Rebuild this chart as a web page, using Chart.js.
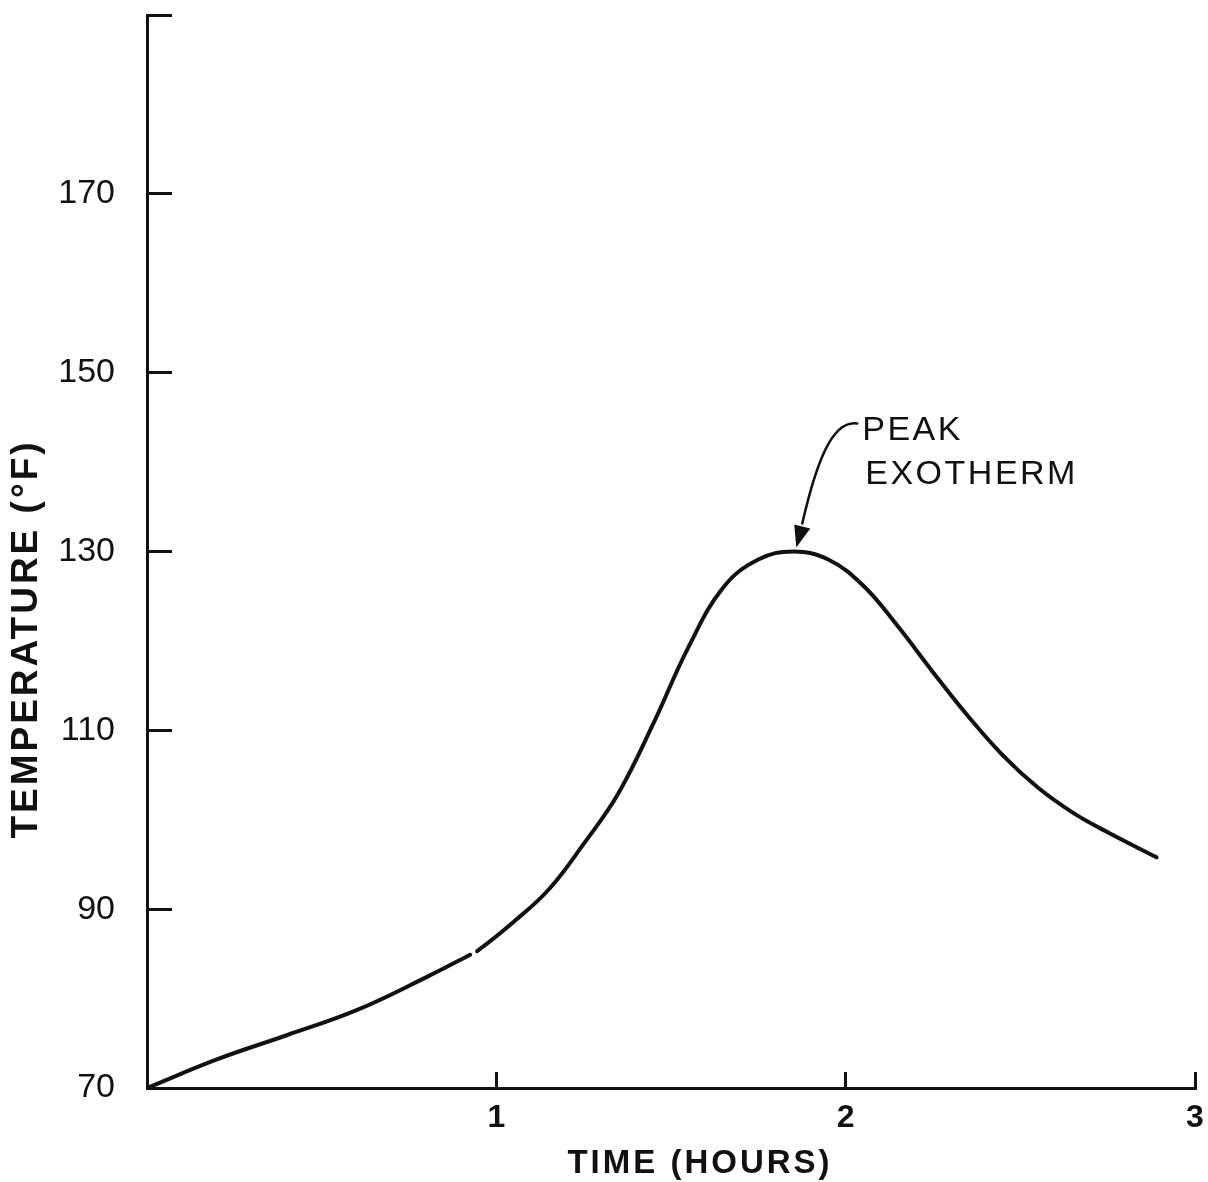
<!DOCTYPE html>
<html>
<head>
<meta charset="utf-8">
<script src="https://cdn.jsdelivr.net/npm/chart.js@4.4.1/dist/chart.umd.min.js"></script>
<style>
  html, body { margin: 0; padding: 0; background: #fff; }
  #wrap { width: 1208px; height: 1182px; }
</style>
</head>
<body>
<div id="wrap"><canvas id="myChart" width="1208" height="1182"></canvas></div>
<script>
// values
const timeHours = [0, 0.2, 0.4, 0.6, 0.8, 0.925, 0.945, 1.05, 1.15, 1.25, 1.35, 1.45, 1.55, 1.65, 1.75,
    1.85, 1.95, 2.05, 2.15, 2.25, 2.35, 2.45, 2.55, 2.65, 2.75, 2.89];
const temperatureF = [70, 73.2, 75.9, 78.7, 82.4, 84.9, 85.3, 88.6, 92.2, 97.3, 103.0, 110.8, 119.3, 126.0, 129.1,
    130.0, 129.1, 126.2, 121.6, 116.5, 111.6, 107.2, 103.6, 100.8, 98.6, 95.8];
const gapIndex = 5; // small break in the inked line

const xTicks = [1, 2, 3];
const yTicks = [70, 90, 110, 130, 150, 170];
const xMin = 0, xMax = 3;
const yMin = 70, yMax = 190;

const xTitle = 'TIME (HOURS)';
const yTitle = 'TEMPERATURE (°F)';
const peakLabel = ['PEAK', 'EXOTHERM'];
const peakPoint = { x: 1.85, y: 130 };

const ink = '#111';

const titlesPlugin = {
    id: 'titles',
    afterDraw(chart) {
        const ctx = chart.ctx;
        const area = chart.chartArea;
        ctx.save();
        ctx.fillStyle = ink;
        ctx.textAlign = 'center';
        ctx.textBaseline = 'middle';
        ctx.letterSpacing = '3px';

        // x title
        ctx.font = 'bold 33px "Liberation Sans", Arial, sans-serif';
        ctx.fillText(xTitle, area.left + 553, area.bottom + 76);

        // y title
        ctx.save();
        ctx.translate(area.left - 120, area.bottom - 449);
        ctx.rotate(-Math.PI / 2);
        ctx.font = 'bold 37px "Liberation Sans", Arial, sans-serif';
        ctx.fillText(yTitle, 0, 0);
        ctx.restore();
        ctx.restore();
    }
};

const peakPlugin = {
    id: 'peakNote',
    afterDatasetsDraw(chart) {
        const ctx = chart.ctx;
        const tx = chart.scales.x.getPixelForValue(peakPoint.x) + 3;
        const ty = chart.scales.y.getPixelForValue(peakPoint.y) - 4;
        ctx.save();
        ctx.strokeStyle = ink;
        ctx.fillStyle = ink;
        ctx.lineWidth = 2.5;
        ctx.lineCap = 'round';
        ctx.beginPath();
        ctx.moveTo(tx + 61, ty - 124);
        ctx.bezierCurveTo(tx + 36, ty - 128, tx + 20, ty - 85, tx + 6, ty - 24);
        ctx.stroke();
        ctx.beginPath();
        ctx.moveTo(tx, ty);
        ctx.lineTo(tx + 14, ty - 19);
        ctx.lineTo(tx - 2, ty - 23);
        ctx.closePath();
        ctx.fill();

        ctx.letterSpacing = '2.5px';
        ctx.font = '34px "Liberation Sans", Arial, sans-serif';
        ctx.textAlign = 'left';
        ctx.textBaseline = 'alphabetic';
        ctx.fillText(peakLabel[0], tx + 66, ty - 108);
        ctx.fillText(peakLabel[1], tx + 69, ty - 64);
        ctx.restore();
    }
};

const ctx = document.getElementById('myChart').getContext('2d');
const chart = new Chart(ctx, {
    type: 'line',
    data: {
        datasets: [{
            label: 'Temperature',
            data: timeHours.map((t, i) => ({ x: t, y: temperatureF[i] })),
            borderColor: ink,
            borderWidth: 4,
            pointRadius: 0,
            fill: false,
            tension: 0.4,
            borderCapStyle: 'round',
            segment: {
                borderColor: c => c.p0DataIndex === gapIndex ? 'rgba(0,0,0,0)' : ink
            }
        }]
    },
    options: {
        responsive: false,
        animation: false,
        events: [],
        layout: { padding: { left: 0, top: 15, right: 13, bottom: 0 } },
        plugins: {
            legend: { display: false },
            tooltip: { enabled: false }
        },
        scales: {
            x: {
                type: 'linear',
                min: xMin,
                max: xMax,
                afterBuildTicks: scale => {
                    scale.ticks = xTicks.map(v => ({ value: v }));
                },
                afterFit: scale => {
                    scale.height = 94;
                    scale.paddingLeft = 0;
                    scale.paddingRight = 0;
                },
                border: { display: true, color: ink, width: 3 },
                grid: { drawOnChartArea: false, color: ink, lineWidth: 3, tickLength: -16 },
                ticks: {
                    color: ink,
                    padding: 27,
                    maxRotation: 0,
                    font: { family: '"Liberation Sans", Arial, sans-serif', size: 32, weight: 'bold' }
                }
            },
            y: {
                type: 'linear',
                min: yMin,
                max: yMax,
                afterBuildTicks: scale => {
                    scale.ticks = yTicks.concat([yMax]).map(v => ({ value: v }));
                },
                afterFit: scale => {
                    scale.width = 147;
                    scale.paddingTop = 0;
                    scale.paddingBottom = 0;
                },
                border: { display: true, color: ink, width: 3 },
                grid: { drawOnChartArea: false, color: ink, lineWidth: 3, tickLength: -25 },
                ticks: {
                    color: ink,
                    padding: 57,
                    callback: v => (v === yMax ? '' : String(v)),
                    font: { family: '"Liberation Sans", Arial, sans-serif', size: 34 }
                }
            }
        }
    },
    plugins: [titlesPlugin, peakPlugin]
});
</script>
</body>
</html>
